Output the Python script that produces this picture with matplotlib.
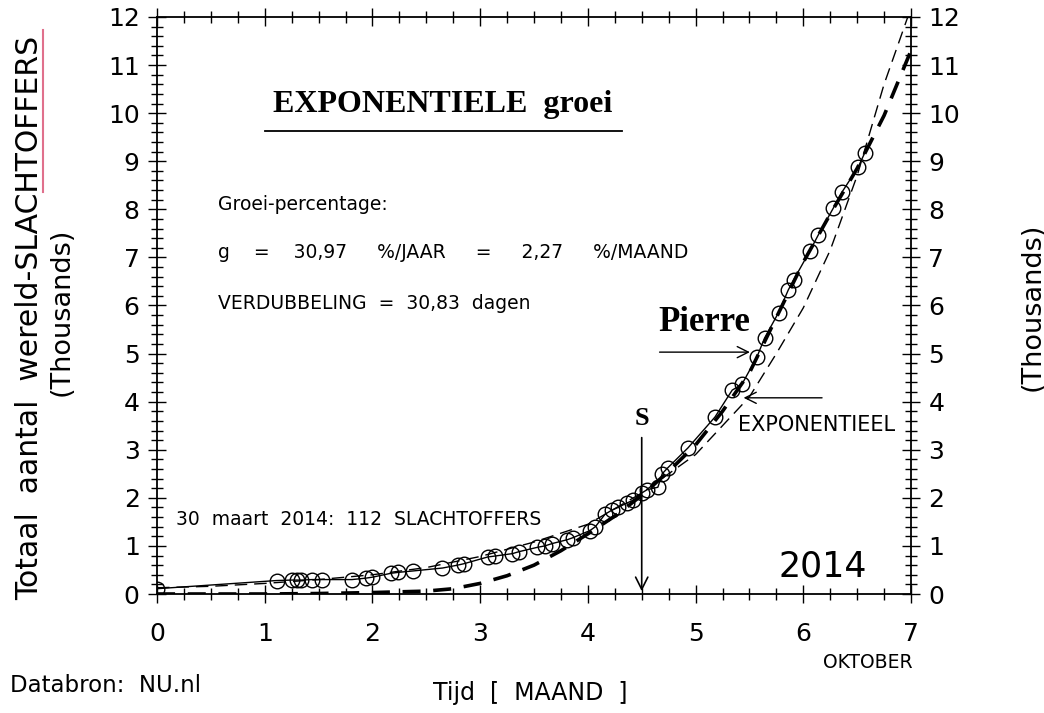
import matplotlib
import matplotlib.pyplot as plt
import numpy as np
from matplotlib.ticker import MultipleLocator

matplotlib.use('Agg')

# Data: tijd in maanden sinds 30 maart 2014, slachtoffers in duizendtallen
maand = [0, 1.11, 1.25, 1.30, 1.34, 1.44, 1.53, 1.81, 1.94, 2.00, 2.17, 2.24,
         2.38, 2.65, 2.79, 2.85, 3.07, 3.14, 3.30, 3.36, 3.53, 3.60, 3.67, 3.81,
         3.86, 4.02, 4.07, 4.16, 4.22, 4.28, 4.36, 4.42, 4.50, 4.55, 4.65, 4.69,
         4.74, 4.93, 5.18, 5.34, 5.43, 5.57, 5.64, 5.77, 5.86, 5.91, 6.06, 6.14,
         6.28, 6.36, 6.51, 6.57]
slachtoffers = [0.11, 0.28, 0.29, 0.29, 0.29, 0.30, 0.30, 0.30, 0.33, 0.35, 0.43, 0.45,
                0.48, 0.54, 0.60, 0.63, 0.77, 0.79, 0.84, 0.88, 0.97, 1.00, 1.05, 1.13,
                1.17, 1.32, 1.40, 1.66, 1.74, 1.80, 1.89, 1.95, 2.10, 2.17, 2.22, 2.50,
                2.62, 3.04, 3.68, 4.24, 4.36, 4.93, 5.32, 5.85, 6.32, 6.53, 7.13, 7.47,
                8.03, 8.36, 8.88, 9.17]

# exponentiele curve (dun gestreept)
exp_x = [0, 0.5, 1.0, 1.5, 2.0, 2.5, 3.0, 3.5, 4.0, 4.5, 5.0, 5.25, 5.5, 5.75,
         6.0, 6.25, 6.5, 6.75, 6.97]
exp_y = [0.13, 0.16, 0.22, 0.30, 0.40, 0.55, 0.78, 1.08, 1.45, 2.10, 2.90, 3.50,
         4.10, 5.00, 5.95, 7.15, 8.70, 10.60, 12.0]

# Pierre curve (dik gestreept)
pierre_x = [0, 1.0, 1.5, 2.0, 2.5, 2.75, 3.0, 3.25, 3.5, 3.75, 4.0, 4.25, 4.5,
            4.75, 5.0, 5.25, 5.5, 5.75, 6.0, 6.25, 6.5, 6.75, 7.0]
pierre_y = [0, 0.0, 0.01, 0.03, 0.06, 0.11, 0.22, 0.38, 0.60, 0.90, 1.25, 1.62, 2.05,
            2.55, 3.10, 3.80, 4.60, 5.75, 6.90, 7.90, 8.85, 9.95, 11.3]

ticks_y = list(range(0, 13))
ticks_x = list(range(0, 8))

plt.rcParams['font.family'] = ['DejaVu Sans']

fig = plt.figure(figsize=(10.44, 7.13), dpi=100)
ax = fig.add_axes([0.1504, 0.1669, 0.7222, 0.8093])

ax.plot(maand, slachtoffers, color='black', lw=1.0, marker='o', ms=10.5,
        mfc='none', mec='black', mew=1.0)
ax.plot(exp_x, exp_y, color='black', lw=1.0, ls=(0, (9, 5)))
ax.plot(pierre_x, pierre_y, color='black', lw=2.6, ls=(0, (5, 3.5)))

ax.set_xlim(0, 7)
ax.set_ylim(0, 12)
ax.set_xticks(ticks_x)
ax.set_yticks(ticks_y)
ax.xaxis.set_minor_locator(MultipleLocator(0.25))
ax.yaxis.set_minor_locator(MultipleLocator(0.2))
ax.tick_params(which='major', direction='inout', length=13, width=1.0,
               labelsize=18, top=True, right=True, labelright=True)
ax.tick_params(which='minor', direction='inout', length=8, width=1.0,
               top=True, right=True)
ax.tick_params(axis='x', which='major', pad=14)
ax.tick_params(axis='y', which='major', pad=6)
for s in ax.spines.values():
    s.set_linewidth(1.3)

# teksten in de grafiek
ax.text(2.65, 10.19, 'EXPONENTIELE  groei', fontsize=23, fontweight='bold',
        family='Liberation Serif', ha='center', va='center')
ax.plot([1.0, 4.32], [9.63, 9.63], color='black', lw=1.3)
ax.text(0.57, 8.09, 'Groei-percentage:', fontsize=13.5, va='center')
ax.text(0.57, 7.11, 'g    =    30,97     %/JAAR     =     2,27     %/MAAND', fontsize=13.5,
        va='center')
ax.text(0.57, 6.05, 'VERDUBBELING  =  30,83  dagen', fontsize=13.5, va='center')
ax.text(0.18, 1.54, '30  maart  2014:  112  SLACHTOFFERS', fontsize=13.5, va='center')
ax.text(6.18, 0.58, '2014', fontsize=25, ha='center', va='center')
ax.text(5.08, 5.64, 'Pierre', fontsize=25, fontweight='bold', family='Liberation Serif',
        ha='center', va='center')
ax.annotate('', xy=(5.53, 5.03), xytext=(4.64, 5.03),
            arrowprops=dict(arrowstyle='->', color='black', lw=1.0, mutation_scale=20))
ax.annotate('', xy=(5.42, 4.08), xytext=(6.20, 4.08),
            arrowprops=dict(arrowstyle='->', color='black', lw=1.0, mutation_scale=20))
ax.text(5.39, 3.51, 'EXPONENTIEEL', fontsize=15, va='center')
ax.annotate('', xy=(4.5, 0.0), xytext=(4.5, 3.31),
            arrowprops=dict(arrowstyle='->', color='black', lw=1.2, mutation_scale=22))
ax.text(4.5, 3.66, 'S', fontsize=19, fontweight='bold', family='Liberation Serif',
        ha='center', va='center')

# aslabels en bron
fig.text(30 / 1044, 1 - 318 / 713, 'Totaal  aantal  wereld-SLACHTOFFERS', rotation=90,
         fontsize=21.5, ha='center', va='center')
fig.text(62 / 1044, 1 - 312 / 713, '(Thousands)', rotation=90, fontsize=19.5,
         ha='center', va='center')
fig.text(1033 / 1044, 1 - 307 / 713, '(Thousands)', rotation=90, fontsize=19.5,
         ha='center', va='center')
fig.lines.append(plt.Line2D([43 / 1044, 43 / 1044], [1 - 192 / 713, 1 - 30 / 713],
                            transform=fig.transFigure, color='#e0708c', lw=1.5))
fig.text(530 / 1044, 1 - 693 / 713, 'Tijd  [  MAAND  ]', fontsize=17, ha='center', va='center')
fig.text(10 / 1044, 1 - 686 / 713, 'Databron:  NU.nl', fontsize=16.5, ha='left', va='center')
fig.text(868 / 1044, 1 - 662 / 713, 'OKTOBER', fontsize=13.5, ha='center', va='center')

fig.savefig('out.png', dpi=100)
